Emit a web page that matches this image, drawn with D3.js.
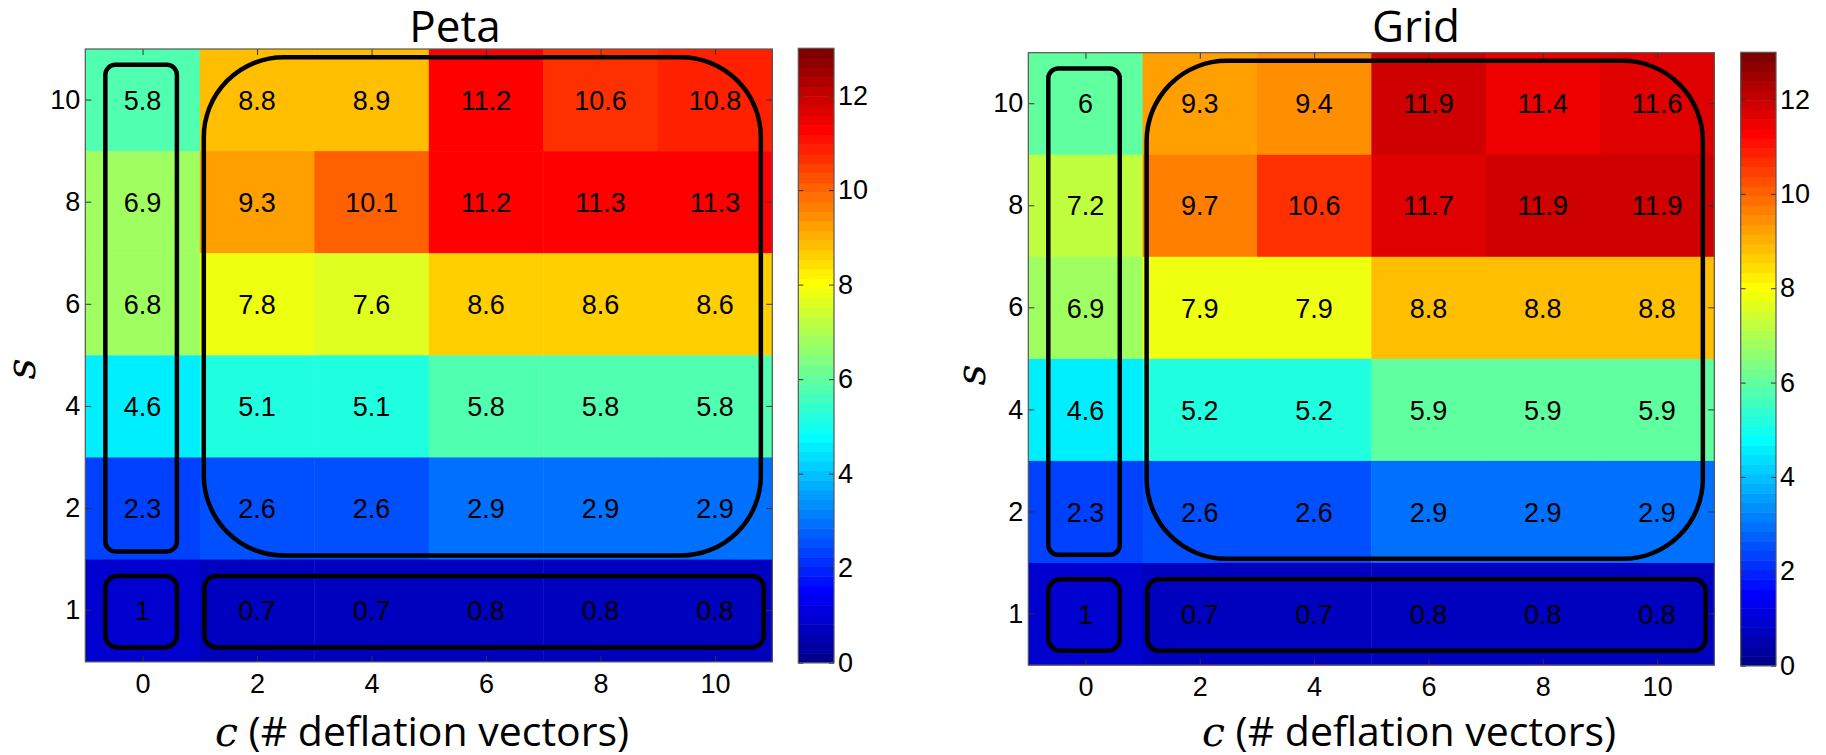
<!DOCTYPE html>
<meta charset="utf-8">
<style>
body { margin: 0; background: #fff; }
.cell-label { font-family: "Liberation Sans", Arial, sans-serif; font-size: 27px; fill: #000; }
.axis text { font-family: "Liberation Sans", Arial, sans-serif; font-size: 27px; fill: #000; }
.axis line { stroke: #333; }
.axis path { display: none; }
.title { font-family: "Open Sans", Lato, sans-serif; font-size: 44px; fill: #000; }
.xlabel { font-family: "Open Sans", Lato, sans-serif; font-size: 41px; fill: #000; }
.math { font-family: "DejaVu Serif", "Liberation Serif", serif; font-style: italic; }
.box { fill: none; stroke: #000; stroke-width: 4.5; }
</style>
<svg width="1826" height="755"></svg>
<script src="https://d3js.org/d3.v7.min.js"></script>
<script>

// rows from top to bottom (s), columns (c)
var sVals = [10, 8, 6, 4, 2, 1];
var cVals = [0, 2, 4, 6, 8, 10];
var cbTicks = [0, 2, 4, 6, 8, 10, 12];

var petaValues = [
  [5.8, 8.8, 8.9, 11.2, 10.6, 10.8],
  [6.9, 9.3, 10.1, 11.2, 11.3, 11.3],
  [6.8, 7.8, 7.6, 8.6, 8.6, 8.6],
  [4.6, 5.1, 5.1, 5.8, 5.8, 5.8],
  [2.3, 2.6, 2.6, 2.9, 2.9, 2.9],
  [1, 0.7, 0.7, 0.8, 0.8, 0.8]
];

var gridValues = [
  [6, 9.3, 9.4, 11.9, 11.4, 11.6],
  [7.2, 9.7, 10.6, 11.7, 11.9, 11.9],
  [6.9, 7.9, 7.9, 8.8, 8.8, 8.8],
  [4.6, 5.2, 5.2, 5.9, 5.9, 5.9],
  [2.3, 2.6, 2.6, 2.9, 2.9, 2.9],
  [1, 0.7, 0.7, 0.8, 0.8, 0.8]
];

// highlight boxes: c range, row range (row 0 = s=1 ... row 5 = s=10)
var boxes = [
  {c0: -0.65, c1: 0.6, r0: 0.58, r1: 5.345, rx: 10},
  {c0: -0.65, c1: 0.6, r0: -0.36, r1: 0.34, rx: 12},
  {c0: 1.07, c1: 10.8, r0: 0.54, r1: 5.42, rx: 80},
  {c0: 1.08, c1: 10.85, r0: -0.36, r1: 0.34, rx: 12}
];

var cmax = 13, nColors = 64;

// MATLAB jet(64)
var jetMap = (function() {
  var n = 16, u = [], i;
  for (i = 1; i <= n; i++) u.push(i / n);
  for (i = 0; i < n - 1; i++) u.push(1);
  for (i = n; i >= 1; i--) u.push(i / n);
  var R = new Array(nColors).fill(0), G = R.slice(), B = R.slice();
  for (var k = 1; k <= u.length; k++) {
    var g = 8 + k, r = g + n, b = g - n;
    if (g >= 1 && g <= nColors) G[g - 1] = u[k - 1];
    if (r >= 1 && r <= nColors) R[r - 1] = u[k - 1];
    if (b >= 1 && b <= nColors) B[b - 1] = u[k - 1];
  }
  return d3.range(nColors).map(function(j) {
    return d3.rgb(R[j] * 255, G[j] * 255, B[j] * 255).toString();
  });
})();

function colorOf(v) {
  var i = Math.floor(v / cmax * nColors);
  return jetMap[Math.max(0, Math.min(nColors - 1, i))];
}

var svg = d3.select("svg");

function drawPanel(opt) {
  var values = opt.values;
  var g = svg.append("g").attr("transform", "translate(" + opt.x + "," + opt.y + ")");

  var x = d3.scaleLinear().domain([-1, 11]).range([0, opt.w]);
  var y = d3.scaleBand().domain(sVals).range([0, opt.h]);
  var yr = d3.scaleLinear().domain([-0.5, 5.5]).range([opt.h, 0]);

  var cells = [];
  values.forEach(function(row, i) {
    row.forEach(function(v, j) { cells.push({s: sVals[i], c: cVals[j], v: v}); });
  });

  g.selectAll(".cell")
    .data(cells)
    .enter().append("rect")
      .attr("class", "cell")
      .attr("x", function(d) { return x(d.c - 1); })
      .attr("y", function(d) { return y(d.s); })
      .attr("width", x(1) - x(-1) + 0.5)
      .attr("height", y.bandwidth() + 0.5)
      .attr("fill", function(d) { return colorOf(d.v); });

  g.selectAll(".cell-label")
    .data(cells)
    .enter().append("text")
      .attr("class", "cell-label")
      .attr("x", function(d) { return x(d.c); })
      .attr("y", function(d) { return y(d.s) + y.bandwidth() / 2; })
      .attr("dy", "0.36em")
      .attr("text-anchor", "middle")
      .text(function(d) { return String(d.v); });

  // axes, ticks pointing inward
  g.append("g").attr("class", "axis")
      .attr("transform", "translate(0," + opt.h + ")")
      .call(d3.axisBottom(x).tickValues(cVals).tickSizeInner(-6).tickSizeOuter(0).tickPadding(12));
  g.append("g").attr("class", "axis")
      .call(d3.axisTop(x).tickValues(cVals).tickSizeInner(-6).tickSizeOuter(0).tickFormat(""));
  g.append("g").attr("class", "axis")
      .call(d3.axisLeft(y).tickSizeInner(-6).tickSizeOuter(0).tickPadding(5));
  g.append("g").attr("class", "axis")
      .attr("transform", "translate(" + opt.w + ",0)")
      .call(d3.axisRight(y).tickSizeInner(-6).tickSizeOuter(0).tickFormat(""));

  g.append("rect")
      .attr("width", opt.w).attr("height", opt.h)
      .attr("fill", "none").attr("stroke", "#555").attr("stroke-width", 1.2);

  g.selectAll(".box")
    .data(boxes)
    .enter().append("rect")
      .attr("class", "box")
      .attr("x", function(d) { return x(d.c0); })
      .attr("y", function(d) { return yr(d.r1); })
      .attr("width", function(d) { return x(d.c1) - x(d.c0); })
      .attr("height", function(d) { return yr(d.r0) - yr(d.r1); })
      .attr("rx", function(d) { return d.rx; })
      .attr("ry", function(d) { return d.rx; });

  // title
  svg.append("text")
      .attr("class", "title")
      .attr("x", opt.titleX)
      .attr("y", 42)
      .attr("text-anchor", "middle")
      .text(opt.title);

  // x label
  var xl = svg.append("text")
      .attr("class", "xlabel")
      .attr("x", opt.xlabelX)
      .attr("y", 746);
  xl.append("tspan").attr("class", "math").text("c");
  xl.append("tspan").text(" (# deflation vectors)");

  // y label
  svg.append("text")
      .attr("class", "xlabel math")
      .attr("transform", "translate(" + opt.ylabelX + "," + opt.ylabelY + ") rotate(-90)")
      .attr("text-anchor", "middle")
      .text("s");

  // colorbar
  var cb = svg.append("g").attr("transform", "translate(" + opt.cbX + "," + opt.cbY + ")");
  var cy = d3.scaleLinear().domain([0, cmax]).range([opt.cbH, 0]);
  cb.selectAll(".band")
    .data(d3.range(nColors))
    .enter().append("rect")
      .attr("x", 0)
      .attr("y", function(i) { return cy((i + 1) * cmax / nColors); })
      .attr("width", opt.cbW)
      .attr("height", function(i) { return cy(i * cmax / nColors) - cy((i + 1) * cmax / nColors) + 0.5; })
      .attr("fill", function(i) { return jetMap[i]; });
  cb.append("g").attr("class", "axis")
      .attr("transform", "translate(" + opt.cbW + ",0)")
      .call(d3.axisRight(cy).tickValues(cbTicks).tickSizeInner(-5).tickSizeOuter(0).tickPadding(4));
  cb.append("g").attr("class", "axis")
      .call(d3.axisLeft(cy).tickValues(cbTicks).tickSizeInner(-5).tickSizeOuter(0).tickFormat(""));
  cb.append("rect")
      .attr("width", opt.cbW).attr("height", opt.cbH)
      .attr("fill", "none").attr("stroke", "#555").attr("stroke-width", 1.2);
}

drawPanel({
  title: "Peta", values: petaValues,
  x: 85.3, y: 49, w: 687, h: 612.7,
  cbX: 798.3, cbY: 48.3, cbW: 35.7, cbH: 614.4,
  titleX: 455, xlabelX: 215, ylabelX: 35, ylabelY: 369
});

drawPanel({
  title: "Grid", values: gridValues,
  x: 1028.3, y: 52.7, w: 686, h: 612.3,
  cbX: 1740.7, cbY: 52.3, cbW: 35.3, cbH: 613.4,
  titleX: 1416, xlabelX: 1202, ylabelX: 985, ylabelY: 375
});

</script>
